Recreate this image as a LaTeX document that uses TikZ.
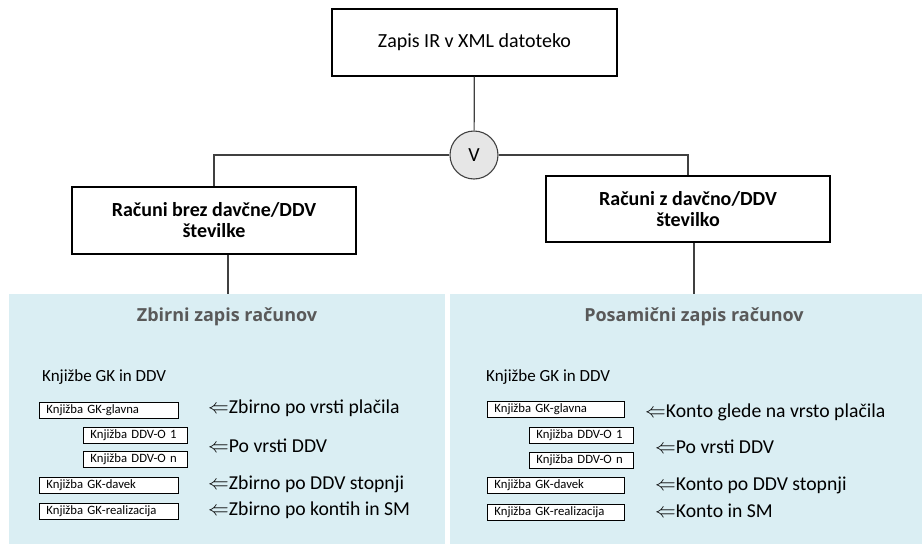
\documentclass[tikz,border=0pt]{standalone}
\usepackage{fontspec}
\setmainfont{Carlito}
\newfontfamily\titlefont{Open Sans}
\usepackage{tikz}
\definecolor{IRPanel}{HTML}{DAEEF3}
\definecolor{IRLine}{HTML}{404040}
\definecolor{IRTitle}{HTML}{595959}
\definecolor{IRNode}{HTML}{E6E6E6}
\begin{document}
\begin{tikzpicture}[x=1pt,y=-1pt,
  bigbox/.style={draw=black,fill=white,line width=1.1pt,align=center,minimum width=285pt,minimum height=67pt,font=\fontsize{20}{23}\selectfont},
  panel/.style={fill=IRPanel,anchor=north west,minimum height=250pt,inner sep=0pt},
  paneltitle/.style={text=IRTitle,font=\titlefont\fontsize{18}{20}\selectfont\bfseries},
  kbox/.style={draw=black,fill=white,line width=0.9pt,anchor=north west,minimum height=16pt,inner xsep=7pt,inner ysep=0pt,text width=#1,align=left,font=\fontsize{12.7}{14}\selectfont},
  hint/.style={anchor=west,inner sep=0pt,font=\fontsize{19.7}{22}\selectfont},
  link/.style={draw=IRLine,line width=1.2pt}]
\path[use as bounding box] (0,0) rectangle (922,544);
% ozadje
\node[panel,minimum width=436pt] (lpanel) at (9,294) {};
\node[panel,minimum width=472pt] (rpanel) at (450,294) {};
% drevo
\node[bigbox] (zapis) at (474.5,42.5) {Zapis IR v XML datoteko};
\node[circle,draw=IRLine,fill=IRNode,line width=1.1pt,minimum size=48pt,inner sep=0pt,font=\fontsize{20}{22}\selectfont] (vor) at (474,155) {V};
\node[bigbox,minimum width=284pt,font=\fontsize{20}{21}\selectfont\bfseries] (brez) at (214,220.5) {Računi brez davčne/DDV\\številke};
\node[bigbox,minimum width=284pt,minimum height=66pt,font=\fontsize{20}{21}\selectfont\bfseries] (zdav) at (688,209) {Računi z davčno/DDV\\številko};
\draw[link] (zapis) -- (vor);
\draw[link] (vor.west) -| (brez.north);
\draw[link] (vor.east) -| (zdav.north);
\draw[link] ([xshift=14pt]brez.south) -- ([xshift=14pt]brez.south |- lpanel.north);
\draw[link] ([xshift=6pt]zdav.south) -- ([xshift=6pt]zdav.south |- rpanel.north);
% levo
\node[paneltitle] (ltitle) at (227,317) {Zbirni zapis računov};
\node[anchor=west,inner sep=0pt,font=\fontsize{17}{19}\selectfont] (lhead) at (42,377) {Knjižbe GK in DDV};
\node[kbox=125pt] (lglav) at (39,402) {Knjižba GK-glavna};
\node[kbox=90pt] (lddv1) at (83,427) {Knjižba DDV-O 1};
\node[kbox=90pt] (lddvn) at (83,451) {Knjižba DDV-O n};
\node[kbox=125pt] (ldav) at (39,477) {Knjižba GK-davek};
\node[kbox=125pt] (lreal) at (39,503) {Knjižba GK-realizacija};
\node[hint] (lh1) at (208,408) {$\Leftarrow$Zbirno po vrsti plačila};
\node[hint] (lh2) at (208,446) {$\Leftarrow$Po vrsti DDV};
\node[hint] (lh3) at (208,484) {$\Leftarrow$Zbirno po DDV stopnji};
\node[hint] (lh4) at (208,510) {$\Leftarrow$Zbirno po kontih in SM};
% desno
\node[paneltitle] (rtitle) at (694,317) {Posamični zapis računov};
\node[anchor=west,inner sep=0pt,font=\fontsize{17}{19}\selectfont] (rhead) at (486,377) {Knjižbe GK in DDV};
\node[kbox=123pt] (rglav) at (487,401) {Knjižba GK-glavna};
\node[kbox=90pt] (rddv1) at (529,427) {Knjižba DDV-O 1};
\node[kbox=90pt] (rddvn) at (529,452) {Knjižba DDV-O n};
\node[kbox=123pt] (rdav) at (487,477) {Knjižba GK-davek};
\node[kbox=123pt] (rreal) at (487,504) {Knjižba GK-realizacija};
\node[hint] (rh1) at (645,412) {$\Leftarrow$Konto glede na vrsto plačila};
\node[hint] (rh2) at (655,447) {$\Leftarrow$Po vrsti DDV};
\node[hint] (rh3) at (655,485) {$\Leftarrow$Konto po DDV stopnji};
\node[hint] (rh4) at (655,511) {$\Leftarrow$Konto in SM};
\end{tikzpicture}
\end{document}
